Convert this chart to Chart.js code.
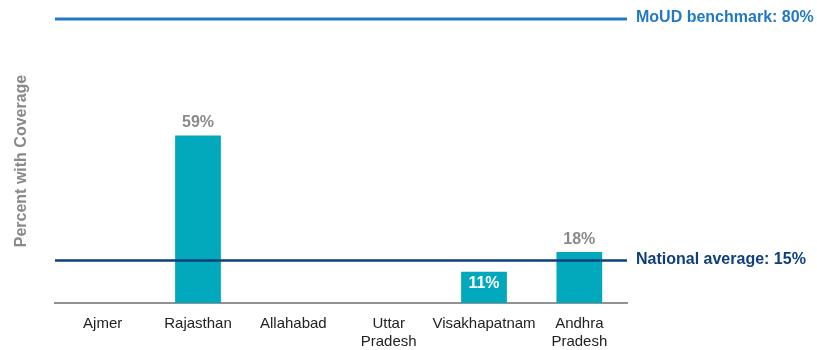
<!DOCTYPE html>
<html>
<head>
<meta charset="utf-8">
<script src="https://cdn.jsdelivr.net/npm/chart.js@4.4.1/dist/chart.umd.min.js"></script>
<style>
  html, body { margin: 0; padding: 0; background: #fff; }
  #wrap { width: 817px; height: 350px; }
</style>
</head>
<body>
<div id="wrap"><canvas id="coverageChart" width="817" height="350"></canvas></div>
<script>
// Zones et couverture (%)
const categories = [
    ["Ajmer"],
    ["Rajasthan"],
    ["Allahabad"],
    ["Uttar", "Pradesh"],
    ["Visakhapatnam"],
    ["Andhra", "Pradesh"]
];
const coverage = [null, 59, null, null, 11, 18];

// Lignes de référence
const nationalAverage = 15;
const moudBenchmark = 80;   // hors échelle : tracée en haut du graphique
const yMax = 100;

const FONT = "'Liberation Sans', Arial, Helvetica, sans-serif";

const referenceLines = {
    id: "referenceLines",
    afterDatasetsDraw(chart) {
        const { ctx, chartArea, scales } = chart;
        const lines = [
            { y: chartArea.top, color: "#2279c3", width: 3, text: `MoUD benchmark: ${moudBenchmark}%` },
            { y: scales.y.getPixelForValue(nationalAverage), color: "#0e3e7b", width: 2.5, text: `National average: ${nationalAverage}%` }
        ];
        ctx.save();
        lines.forEach(l => {
            ctx.strokeStyle = l.color;
            ctx.lineWidth = l.width;
            ctx.beginPath();
            ctx.moveTo(chartArea.left, l.y);
            ctx.lineTo(chartArea.right, l.y);
            ctx.stroke();

            ctx.fillStyle = l.color;
            ctx.font = `bold 16px ${FONT}`;
            ctx.textAlign = "left";
            ctx.textBaseline = "middle";
            ctx.fillText(l.text, chartArea.right + 9, l.y - 1);
        });
        ctx.restore();
    }
};

// Valeurs au-dessus des barres (ou dedans si sous la moyenne nationale)
const barValues = {
    id: "barValues",
    afterDatasetsDraw(chart) {
        const { ctx } = chart;
        const meta = chart.getDatasetMeta(0);
        ctx.save();
        ctx.font = `bold 16px ${FONT}`;
        ctx.textAlign = "center";
        ctx.textBaseline = "middle";
        meta.data.forEach((bar, i) => {
            const v = coverage[i];
            if (v == null) return;
            if (v < nationalAverage) {
                ctx.fillStyle = "#ffffff";
                ctx.fillText(`${v}%`, bar.x, bar.y + 12);
            } else {
                ctx.fillStyle = "#8a8a8a";
                ctx.fillText(`${v}%`, bar.x, bar.y - 12.5);
            }
        });
        ctx.restore();
    }
};

new Chart(document.getElementById("coverageChart"), {
    type: "bar",
    plugins: [barValues, referenceLines],
    data: {
        labels: categories,
        datasets: [{
            label: "Percent with Coverage",
            data: coverage,
            backgroundColor: "#02a8bc",
            borderWidth: 0,
            categoryPercentage: 1,
            barPercentage: 0.48
        }]
    },
    options: {
        responsive: false,
        animation: false,
        layout: { padding: { top: 19, right: 190, left: 0, bottom: 0 } },
        plugins: {
            legend: { display: false },
            tooltip: { enabled: false }
        },
        scales: {
            x: {
                grid: { display: false, drawTicks: false },
                border: { display: true, color: "#929292", width: 2 },
                ticks: {
                    color: "#222",
                    padding: 11,
                    maxRotation: 0,
                    autoSkip: false,
                    font: { family: FONT, size: 15, lineHeight: 1.25 }
                },
                afterFit: s => { s.height = 47; }
            },
            y: {
                min: 0,
                max: yMax,
                grid: { display: false, drawTicks: false },
                border: { display: false },
                ticks: { display: false },
                title: {
                    display: true,
                    text: "Percent with Coverage",
                    color: "#8a8a8a",
                    padding: { top: 12, bottom: 0 },
                    font: { family: FONT, size: 16, weight: "bold", lineHeight: 1.2 }
                },
                afterFit: s => { s.width = 55; }
            }
        }
    }
});
</script>
</body>
</html>
